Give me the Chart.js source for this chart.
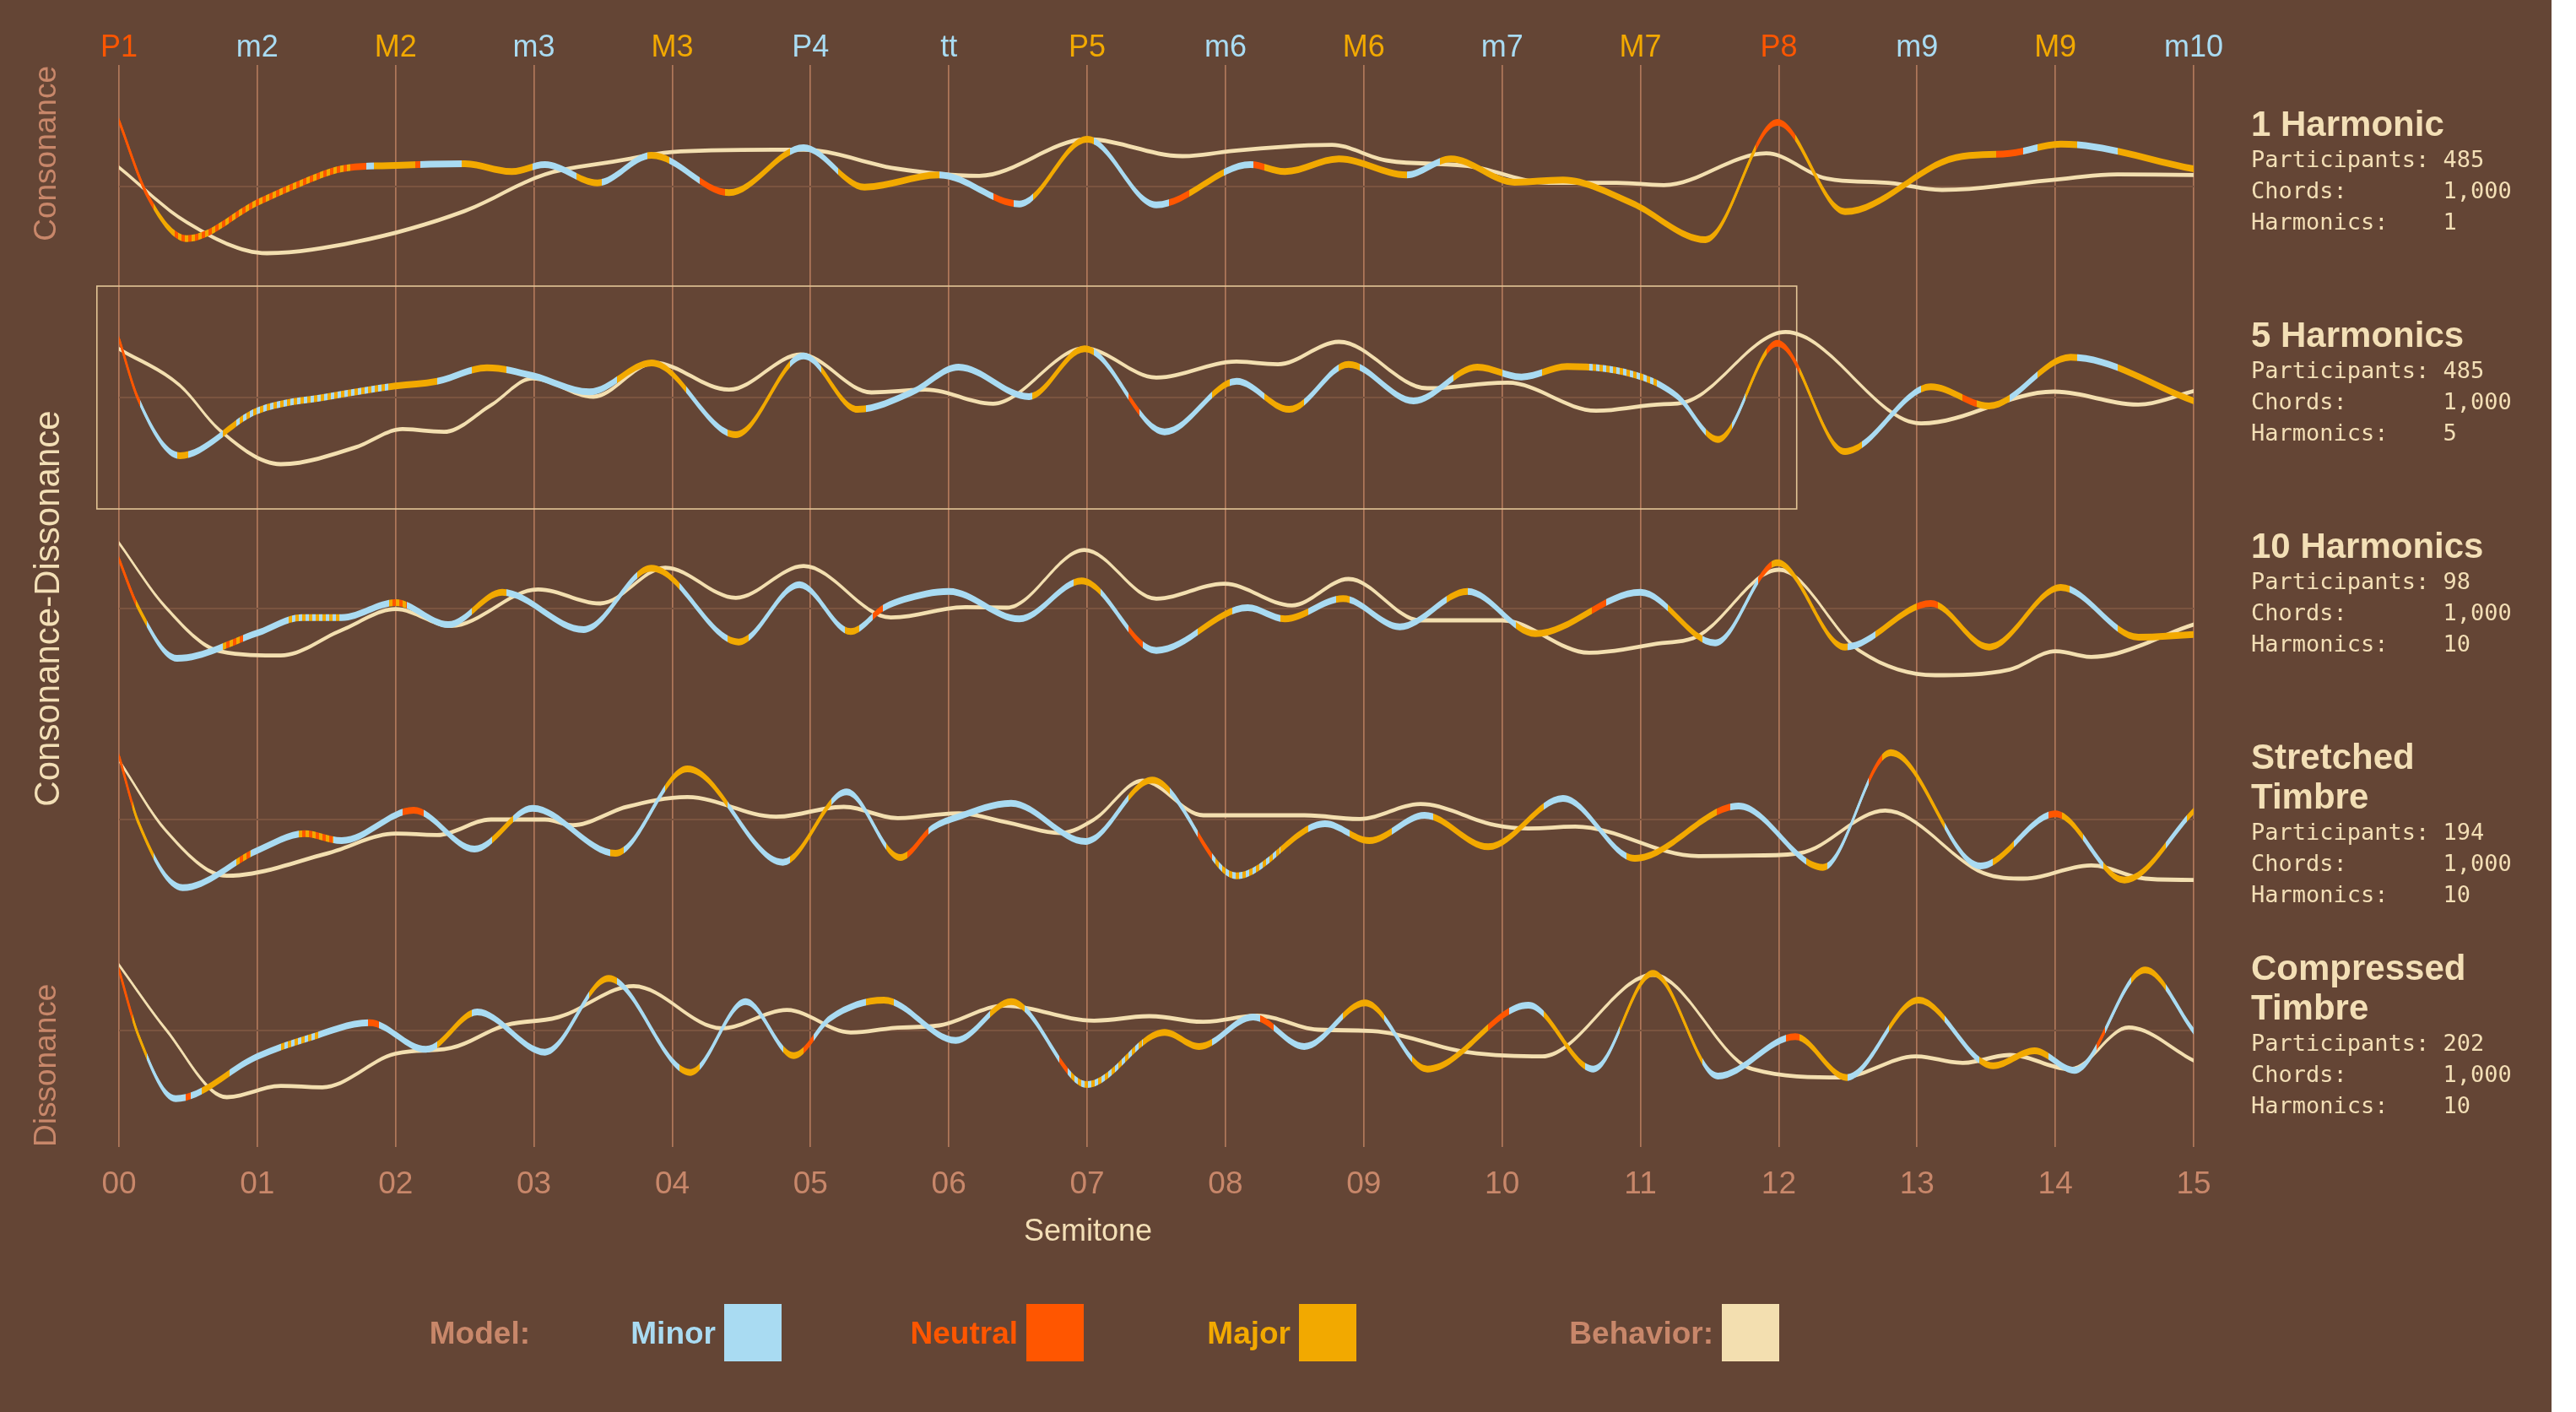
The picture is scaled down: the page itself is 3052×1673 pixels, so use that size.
<!DOCTYPE html>
<html>
<head>
<meta charset="utf-8">
<title>Consonance-Dissonance by Semitone</title>
<script src="https://cdn.jsdelivr.net/npm/chart.js@4.4.1/dist/chart.umd.min.js"></script>
<style>
  html, body { margin: 0; padding: 0; background: #ffffff; }
  #wrap { position: absolute; left: 0; top: 0; width: 3023px; height: 1673px; }
</style>
</head>
<body>
<div id="wrap"><canvas id="chart"></canvas></div>
<script>
// ---------- axis labels ----------
const semitoneLabels = ['00','01','02','03','04','05','06','07','08','09','10','11','12','13','14','15'];
const intervalNames  = ['P1','m2','M2','m3','M3','P4','tt','P5','m6','M6','m7','M7','P8','m9','M9','m10'];
const intervalModes  = ['n','m','M','m','M','m','m','M','m','M','m','M','n','m','M','m'];
const xAxisTitle = 'Semitone';

// ---------- panel captions ----------
const panelTitles   = [['1 Harmonic'], ['5 Harmonics'], ['10 Harmonics'], ['Stretched', 'Timbre'], ['Compressed', 'Timbre']];
const participants  = [485, 485, 98, 194, 202];
const chords        = [1000, 1000, 1000, 1000, 1000];
const harmonics     = [1, 5, 10, 10, 10];

// ---------- 1 Harmonic ----------
const h1ModelX = [0, 0.21, 0.49, 1.0, 1.32, 1.61, 2.0, 2.5, 2.84, 3.08, 3.46, 3.85, 4.41, 4.95, 5.39, 5.93, 6.51, 7.0, 7.5, 8.18, 8.43, 8.82, 9.31, 9.63, 10.09, 10.44, 10.93, 11.47, 11.99, 12.48, 13.28, 13.67, 14.04, 15];
const h1ModelY = [2.33, -0.36, -1.85, -0.57, 0.13, 0.63, 0.75, 0.81, 0.53, 0.78, 0.13, 1.11, -0.22, 1.38, -0.02, 0.41, -0.62, 1.68, -0.65, 0.78, 0.53, 0.98, 0.41, 0.98, 0.15, 0.23, -0.57, -1.89, 2.28, -0.89, 1.03, 1.18, 1.51, 0.63];
const h1BehavX = [0, 0.49, 1.07, 1.71, 2.5, 3.08, 3.57, 4.06, 4.95, 5.63, 6.22, 7.0, 7.69, 8.08, 8.77, 9.16, 9.75, 10.34, 10.83, 11.17, 11.91, 12.35, 12.79, 13.18, 13.97, 14.45, 15];
const h1BehavY = [0.68, -1.27, -2.37, -1.97, -0.87, 0.43, 0.88, 1.25, 1.31, 0.63, 0.38, 1.68, 1.08, 1.28, 1.48, 0.93, 0.73, 0.13, 0.13, 0.05, 1.18, 0.28, 0.13, -0.12, 0.23, 0.43, 0.41];
const h1Modes = [[0,'n'],[0.25,'M'],[0.38,'nM'],[1.67,'n'],[1.79,'m'],[1.84,'M'],[2.14,'n'],[2.18,'m'],[2.48,'M'],[2.99,'m'],[3.31,'M'],[3.49,'m'],[3.82,'M'],[3.98,'m'],[4.2,'n'],[4.38,'M'],[4.85,'m'],[5.2,'M'],[5.93,'m'],[6.32,'n'],[6.47,'m'],[6.61,'M'],[7.05,'m'],[7.59,'n'],[7.74,'M'],[7.99,'m'],[8.2,'n'],[8.28,'M'],[9.31,'m'],[9.55,'M'],[11.83,'n'],[12.12,'M'],[13.57,'n'],[13.77,'m'],[13.87,'M'],[14.16,'m'],[14.45,'M']];

// ---------- 5 Harmonics ----------
const h5ModelX = [0, 0.14, 0.44, 1.0, 1.51, 2.0, 2.3, 2.66, 2.99, 3.4, 3.85, 4.46, 4.95, 5.34, 5.73, 6.07, 6.58, 6.98, 7.56, 8.08, 8.46, 8.89, 9.36, 9.82, 10.14, 10.47, 11.02, 11.27, 11.56, 11.99, 12.48, 13.1, 13.52, 14.11, 15];
const h5ModelY = [2.08, -0.07, -2.07, -0.47, 0.03, 0.41, 0.58, 1.06, 0.78, 0.2, 1.23, -1.32, 1.48, -0.42, 0.18, 1.08, 0.03, 1.73, -1.22, 0.58, -0.42, 1.18, -0.12, 1.08, 0.73, 1.1, 0.71, 0.03, -1.49, 1.93, -1.92, 0.38, -0.3, 1.43, -0.12];
const h5BehavX = [0, 0.44, 0.73, 1.17, 1.71, 2.05, 2.35, 2.69, 2.99, 3.43, 3.87, 4.41, 4.93, 5.44, 5.83, 6.32, 6.98, 7.5, 8.08, 8.38, 8.82, 9.46, 10.04, 10.68, 11.12, 11.32, 12.05, 13.03, 13.99, 14.6, 15];
const h5BehavY = [1.73, 0.43, -1.17, -2.37, -1.77, -1.12, -1.22, -0.27, 0.68, 0.03, 1.23, 0.28, 1.53, 0.18, 0.28, -0.22, 1.75, 0.71, 1.28, 1.18, 1.98, 0.33, 0.53, -0.47, -0.25, -0.17, 2.33, -0.92, 0.21, -0.25, 0.23];
const h5Modes = [[0,'n'],[0.15,'m'],[0.42,'M'],[0.5,'m'],[0.75,'M'],[0.85,'mM'],[1.95,'M'],[2.3,'m'],[2.55,'M'],[2.8,'m'],[3.6,'M'],[4.1,'m'],[4.4,'M'],[4.85,'m'],[5.08,'M'],[5.4,'m'],[6.6,'M'],[7.05,'m'],[7.3,'n'],[7.38,'m'],[7.9,'M'],[8.03,'m'],[8.28,'M'],[8.57,'m'],[8.82,'M'],[8.97,'m'],[9.65,'M'],[10.0,'m'],[10.29,'M'],[10.63,'mM'],[11.12,'m'],[11.47,'M'],[11.66,'m'],[11.76,'M'],[11.91,'n'],[12.15,'M'],[12.6,'m'],[13.03,'M'],[13.33,'n'],[13.43,'M'],[13.67,'m'],[13.87,'M'],[14.16,'m'],[14.45,'M']];

// ---------- 10 Harmonics ----------
const h10ModelX = [0, 0.14, 0.42, 1.0, 1.32, 1.61, 2.0, 2.38, 2.77, 3.36, 3.85, 4.48, 4.92, 5.29, 5.53, 5.68, 6.0, 6.51, 6.96, 7.5, 8.16, 8.43, 8.85, 9.26, 9.75, 10.24, 11.0, 11.54, 11.99, 12.48, 13.1, 13.52, 14.04, 14.6, 15];
const h10ModelY = [1.75, 0.03, -1.77, -0.87, -0.32, -0.32, 0.21, -0.57, 0.58, -0.75, 1.43, -1.19, 0.85, -0.82, 0.03, 0.33, 0.61, -0.37, 0.98, -1.49, 0.03, -0.37, 0.35, -0.65, 0.61, -0.89, 0.58, -1.22, 1.63, -1.37, 0.18, -1.37, 0.75, -1.02, -0.92];
const h10BehavX = [0, 0.34, 0.73, 1.17, 1.61, 2.0, 2.4, 3.03, 3.48, 3.95, 4.46, 4.95, 5.58, 6.12, 6.42, 6.98, 7.5, 7.99, 8.48, 8.89, 9.41, 10.0, 10.63, 11.12, 11.42, 12.0, 12.59, 13.13, 13.67, 14.0, 14.26, 15];
const h10BehavY = [2.33, 0.03, -1.52, -1.67, -0.77, -0.02, -0.62, 0.68, 0.18, 1.45, 0.38, 1.51, -0.32, 0.05, 0.03, 2.08, 0.35, 0.88, 0.11, 1.05, -0.42, -0.42, -1.57, -1.25, -0.97, 1.38, -1.52, -2.37, -2.17, -1.52, -1.72, -0.57];
const h10Modes = [[0,'n'],[0.12,'M'],[0.2,'m'],[0.75,'nM'],[0.9,'m'],[1.2,'mM'],[1.6,'m'],[1.95,'nM'],[2.08,'m'],[2.55,'M'],[2.8,'m'],[3.75,'M'],[4.05,'m'],[4.4,'M'],[4.55,'m'],[5.25,'M'],[5.35,'m'],[5.45,'n'],[5.52,'m'],[6.9,'M'],[7.1,'m'],[7.3,'n'],[7.4,'m'],[7.8,'M'],[8.05,'m'],[8.4,'M'],[8.6,'m'],[8.8,'M'],[8.9,'m'],[9.6,'M'],[9.75,'m'],[10.1,'M'],[10.65,'n'],[10.75,'m'],[11.2,'M'],[11.45,'m'],[11.85,'n'],[11.95,'M'],[12.5,'m'],[12.7,'M'],[13.0,'n'],[13.15,'M'],[14.1,'m'],[14.45,'M']];

// ---------- Stretched Timbre ----------
const strModelX = [0, 0.14, 0.46, 1.0, 1.34, 1.61, 2.13, 2.57, 2.99, 3.59, 4.11, 4.8, 5.26, 5.65, 5.88, 6.07, 6.45, 6.99, 7.47, 8.08, 8.72, 9.04, 9.44, 9.9, 10.44, 10.96, 11.71, 12.32, 12.81, 13.46, 14.0, 14.5, 15];
const strModelY = [2.25, -0.1, -2.42, -1.1, -0.5, -0.75, 0.33, -1.05, 0.4, -1.2, 1.8, -1.52, 0.98, -1.35, -0.3, 0.1, 0.58, -0.78, 1.4, -2.0, -0.15, -0.75, 0.15, -0.97, 0.75, -1.38, 0.48, -1.7, 2.38, -1.65, 0.2, -2.15, 0.3];
const strBehavX = [0, 0.34, 0.78, 1.51, 2.0, 2.3, 2.69, 3.08, 3.28, 3.67, 4.11, 4.75, 5.24, 5.63, 6.07, 6.42, 6.81, 7.05, 7.4, 7.84, 8.57, 8.97, 9.41, 9.95, 10.19, 10.53, 11.42, 11.81, 12.15, 12.77, 13.48, 13.77, 14.26, 14.65, 15];
const strBehavY = [2.1, -0.4, -2.0, -1.2, -0.5, -0.55, 0.0, 0.0, -0.2, 0.45, 0.8, 0.1, 0.45, 0.05, 0.22, -0.1, -0.48, 0.0, 1.38, 0.15, 0.15, 0.02, 0.55, -0.2, -0.32, -0.25, -1.3, -1.28, -1.2, 0.32, -1.9, -2.1, -1.63, -2.1, -2.15];
const strModes = [[0,'n'],[0.1,'M'],[0.25,'m'],[0.85,'nM'],[0.95,'m'],[1.3,'nM'],[1.55,'m'],[2.05,'n'],[2.2,'m'],[2.7,'M'],[2.85,'m'],[3.55,'M'],[3.65,'m'],[3.95,'M'],[4.4,'m'],[4.85,'M'],[5.15,'m'],[5.55,'M'],[5.7,'n'],[5.85,'m'],[7.3,'M'],[7.6,'m'],[7.8,'n'],[7.9,'mM'],[8.4,'M'],[8.6,'m'],[8.9,'M'],[9.2,'m'],[9.5,'M'],[10.3,'m'],[10.9,'M'],[11.55,'n'],[11.65,'m'],[12.2,'M'],[12.35,'m'],[12.65,'n'],[12.75,'M'],[13.2,'m'],[13.55,'M'],[13.7,'m'],[13.95,'n'],[14.05,'M'],[14.2,'m'],[14.35,'M'],[14.8,'m'],[14.95,'M']];

// ---------- Compressed Timbre ----------
const cmpModelX = [0, 0.14, 0.41, 1.0, 1.37, 1.81, 2.22, 2.59, 3.08, 3.54, 4.13, 4.53, 4.88, 5.14, 5.53, 6.05, 6.45, 7.0, 7.56, 7.81, 8.2, 8.57, 9.01, 9.46, 10.19, 10.66, 11.09, 11.56, 12.12, 12.49, 13.01, 13.55, 13.85, 14.14, 14.65, 15];
const cmpModelY = [2.15, -0.17, -2.42, -0.92, -0.27, 0.28, -0.67, 0.66, -0.77, 1.85, -1.49, 1.03, -0.89, 0.43, 1.08, -0.35, 1.03, -1.92, -0.07, -0.57, 0.48, -0.57, 0.98, -1.37, 0.9, -1.37, 2.03, -1.62, -0.22, -1.67, 1.08, -1.25, -0.72, -1.42, 2.15, -0.02];
const cmpBehavX = [0, 0.34, 0.78, 1.17, 1.47, 2.0, 2.4, 2.79, 3.18, 3.72, 4.36, 4.83, 5.29, 5.63, 5.93, 6.4, 7.05, 7.45, 7.84, 8.23, 8.67, 9.06, 9.75, 10.29, 11.09, 11.81, 12.45, 12.99, 13.33, 13.67, 14.11, 14.53, 15];
const cmpBehavY = [2.33, 0.03, -2.37, -1.97, -2.02, -0.82, -0.62, 0.18, 0.48, 1.58, 0.08, 0.73, -0.07, 0.1, 0.18, 0.88, 0.35, 0.51, 0.31, 0.53, 0.03, -0.02, -0.77, -0.92, 1.98, -1.37, -1.67, -0.92, -1.15, -0.87, -1.37, 0.11, -1.07];
const cmpModes = [[0,'n'],[0.1,'M'],[0.2,'m'],[0.48,'n'],[0.52,'m'],[0.6,'M'],[0.8,'m'],[1.15,'mM'],[1.45,'m'],[1.8,'n'],[1.88,'m'],[2.3,'M'],[2.55,'m'],[3.4,'M'],[3.6,'m'],[4.05,'M'],[4.2,'m'],[4.8,'M'],[4.95,'n'],[5.02,'m'],[5.4,'M'],[5.6,'m'],[6.3,'M'],[6.55,'m'],[6.8,'n'],[6.86,'mM'],[7.4,'M'],[7.9,'m'],[8.25,'n'],[8.35,'m'],[8.85,'M'],[9.15,'m'],[9.35,'M'],[9.9,'n'],[10.05,'m'],[10.3,'M'],[10.6,'m'],[10.85,'M'],[11.45,'m'],[12.05,'n'],[12.15,'M'],[12.5,'m'],[12.8,'M'],[13.2,'m'],[13.45,'M'],[13.95,'m'],[14.3,'n'],[14.36,'m'],[14.55,'M'],[14.8,'m']];

// highlighted panel frame (semitone range, score range on its panel)
const frameX = [-0.16, 12.13];
const frameY = [-3.96, 3.96];

// ---------- styling ----------
const C = {
  bg: '#644535',
  minor: '#a9dbf2',
  neutral: '#ff5600',
  major: '#f2a900',
  behavior: '#f3dfb0',
  label: '#c8876a',
  text: '#f3dfb6',
  grid: 'rgba(205,140,105,0.72)',
  zero: '#7a5440',
  frame: '#e3c596'
};
const MODE_COLOR = { m: C.minor, n: C.neutral, M: C.major };
const MIXED = { nM: ['M', 'n'], mM: ['m', 'M'] };
const STRIPE = 4;
const SANS = '"Liberation Sans", Arial, sans-serif';
const MONO = '"DejaVu Sans Mono", monospace';

const panels = [
  { mx: h1ModelX,  my: h1ModelY,  bx: h1BehavX,  by: h1BehavY,  modes: h1Modes },
  { mx: h5ModelX,  my: h5ModelY,  bx: h5BehavX,  by: h5BehavY,  modes: h5Modes },
  { mx: h10ModelX, my: h10ModelY, bx: h10BehavX, by: h10BehavY, modes: h10Modes },
  { mx: strModelX, my: strModelY, bx: strBehavX, by: strBehavY, modes: strModes },
  { mx: cmpModelX, my: cmpModelY, bx: cmpBehavX, by: cmpBehavY, modes: cmpModes }
];

// horizontal colour ramp following the model's mode along the semitone axis
const rampCache = {};
function modeRamp(chart, idx) {
  const area = chart.chartArea;
  const xs = chart.scales.x;
  if (!area || !xs) return C.major;
  const key = idx + ':' + area.left + ':' + area.right;
  if (rampCache[key]) return rampCache[key];
  const x0 = area.left, w = area.right - area.left;
  const off = px => Math.min(1, Math.max(0, (px - x0) / w));
  const g = chart.ctx.createLinearGradient(area.left, 0, area.right, 0);
  const runs = panels[idx].modes;
  runs.forEach(([start, mode], i) => {
    const end = i + 1 < runs.length ? runs[i + 1][0] : 15;
    const p0 = xs.getPixelForValue(start), p1 = xs.getPixelForValue(end);
    const pair = MIXED[mode];
    if (!pair) {
      g.addColorStop(off(p0), MODE_COLOR[mode]);
      g.addColorStop(off(p1), MODE_COLOR[mode]);
    } else {
      let p = p0, k = 0;
      while (p < p1) {
        const q = Math.min(p + STRIPE, p1);
        const col = MODE_COLOR[pair[k % 2]];
        g.addColorStop(off(p), col);
        g.addColorStop(off(q), col);
        p = q; k++;
      }
    }
  });
  rampCache[key] = g;
  return g;
}

const toPoints = (xs, ys, shift) => xs.map((x, k) => ({ x: x, y: ys[k] + shift }));

// each curve = centre stroke + a ribbon of constant vertical thickness
const MODEL_HALF = 0.12, BEHAV_HALF = 0.072;
const datasets = [];
panels.forEach((p, i) => {
  const yAxisID = 'y' + i;
  const common = { yAxisID, xAxisID: 'x', pointRadius: 0, pointHitRadius: 0, cubicInterpolationMode: 'monotone' };
  // behaviour
  datasets.push(Object.assign({}, common, { label: 'Behavior', order: 1, data: toPoints(p.bx, p.by, 0), borderColor: C.behavior, borderWidth: 2, fill: false }));
  datasets.push(Object.assign({}, common, { label: 'Behavior band', order: 1, data: toPoints(p.bx, p.by, BEHAV_HALF), borderWidth: 0, borderColor: 'rgba(0,0,0,0)', backgroundColor: C.behavior, fill: '+1' }));
  datasets.push(Object.assign({}, common, { label: 'Behavior band low', order: 1, data: toPoints(p.bx, p.by, -BEHAV_HALF), borderWidth: 0, borderColor: 'rgba(0,0,0,0)', fill: false }));
  // model
  datasets.push(Object.assign({}, common, { label: 'Model', order: 0, data: toPoints(p.mx, p.my, 0), borderColor: ctx => modeRamp(ctx.chart, i), borderWidth: 2.8, fill: false }));
  datasets.push(Object.assign({}, common, { label: 'Model band', order: 0, data: toPoints(p.mx, p.my, MODEL_HALF), borderWidth: 0, borderColor: 'rgba(0,0,0,0)', backgroundColor: ctx => modeRamp(ctx.chart, i), fill: '+1' }));
  datasets.push(Object.assign({}, common, { label: 'Model band low', order: 0, data: toPoints(p.mx, p.my, -MODEL_HALF), borderWidth: 0, borderColor: 'rgba(0,0,0,0)', fill: false }));
});

const allTicks = s => { s.ticks = semitoneLabels.map((_, i) => ({ value: i })); };

const scales = {
  x: {
    type: 'linear', position: 'bottom', min: 0, max: 15,
    afterBuildTicks: allTicks,
    afterFit: s => { s.height = 134; },
    ticks: { callback: v => semitoneLabels[v], color: C.label, font: { family: SANS, size: 37 }, padding: 23, maxRotation: 0, autoSkip: false },
    grid: { color: C.grid, lineWidth: 1.7, tickLength: 13, tickColor: C.grid, drawOnChartArea: true },
    border: { display: false }
  },
  xTop: {
    type: 'linear', position: 'top', min: 0, max: 15,
    afterBuildTicks: allTicks,
    afterFit: s => { s.height = 96; },
    ticks: { callback: v => intervalNames[v], color: ctx => MODE_COLOR[intervalModes[ctx.index]], font: { family: SANS, size: 36 }, padding: -2, maxRotation: 0, autoSkip: false },
    grid: { color: C.grid, lineWidth: 1.7, tickLength: 19, tickColor: C.grid, drawOnChartArea: false },
    border: { display: false }
  }
};
panels.forEach((p, i) => {
  scales['y' + i] = {
    type: 'linear', position: 'left', stack: 'panels', stackWeight: 1, weight: panels.length - i,
    min: -3.75, max: 3.75,
    afterBuildTicks: s => { s.ticks = [{ value: 0 }]; },
    afterFit: s => { s.width = 141; },
    ticks: { display: false },
    grid: { color: C.zero, lineWidth: 2, drawTicks: false },
    border: { display: false }
  };
});

function rotatedText(ctx, text, x, y, align, font, color) {
  ctx.save();
  ctx.translate(x, y);
  ctx.rotate(-Math.PI / 2);
  ctx.font = font;
  ctx.fillStyle = color;
  ctx.textAlign = align;
  ctx.textBaseline = 'middle';
  ctx.fillText(text, 0, 0);
  ctx.restore();
}

const decor = {
  id: 'decor',
  beforeDraw(chart) {
    const ctx = chart.ctx;
    ctx.save();
    ctx.fillStyle = C.bg;
    ctx.fillRect(0, 0, chart.width, chart.height);
    ctx.restore();
  },
  beforeDatasetsDraw(chart) {
    const ctx = chart.ctx, xs = chart.scales.x, ys = chart.scales.y1;
    const l = xs.getPixelForValue(frameX[0]), r = xs.getPixelForValue(frameX[1]);
    const t = ys.getPixelForValue(frameY[1]), b = ys.getPixelForValue(frameY[0]);
    ctx.save();
    ctx.strokeStyle = C.frame;
    ctx.lineWidth = 1.6;
    ctx.strokeRect(l, t, r - l, b - t);
    ctx.restore();
  },
  afterDraw(chart) {
    const ctx = chart.ctx, area = chart.chartArea;
    // side axis captions
    rotatedText(ctx, 'Consonance', 56, area.top - 18, 'right', '37px ' + SANS, C.label);
    rotatedText(ctx, 'Consonance-Dissonance', 58, (area.top + area.bottom) / 2, 'center', '42px ' + SANS, C.text);
    rotatedText(ctx, 'Dissonance', 56, area.bottom + 13, 'left', '37px ' + SANS, C.label);

    // x axis title
    ctx.save();
    ctx.font = '36px ' + SANS;
    ctx.fillStyle = C.text;
    ctx.textAlign = 'center';
    ctx.textBaseline = 'middle';
    ctx.fillText(xAxisTitle, 1289, area.bottom + 114);
    ctx.restore();

    // panel captions
    const capX = 2667;
    ctx.save();
    ctx.fillStyle = C.text;
    ctx.textAlign = 'left';
    ctx.textBaseline = 'middle';
    panels.forEach((p, i) => {
      const cy = chart.scales['y' + i].getPixelForValue(0);
      let y = cy - 72;
      ctx.font = 'bold 42px ' + SANS;
      panelTitles[i].forEach((line, k) => {
        if (k > 0) y += 47;
        ctx.fillText(line, capX, y);
      });
      ctx.font = '27px ' + MONO;
      const rows = [
        'Participants: ' + participants[i].toLocaleString('en-US'),
        'Chords:'.padEnd(14) + chords[i].toLocaleString('en-US'),
        'Harmonics:'.padEnd(14) + harmonics[i].toLocaleString('en-US')
      ];
      y += 42;
      rows.forEach((row, k) => ctx.fillText(row, capX, y + k * 37));
    });
    ctx.restore();

    // legend
    const ly = 1582, box = 68;
    const items = [
      { text: 'Model:', color: C.label, right: 628 },
      { text: 'Minor', color: C.minor, boxX: 858, fill: C.minor },
      { text: 'Neutral', color: C.neutral, boxX: 1216, fill: C.neutral },
      { text: 'Major', color: C.major, boxX: 1539, fill: C.major },
      { text: 'Behavior:', color: C.label, boxX: 2040, fill: C.behavior }
    ];
    ctx.save();
    ctx.font = 'bold 37px ' + SANS;
    ctx.textAlign = 'right';
    ctx.textBaseline = 'middle';
    items.forEach(it => {
      const right = it.boxX !== undefined ? it.boxX - 10 : it.right;
      ctx.fillStyle = it.color;
      ctx.fillText(it.text, right, ly);
      if (it.boxX !== undefined) {
        ctx.fillStyle = it.fill;
        ctx.fillRect(it.boxX, ly - 3 - box / 2, box, box);
      }
    });
    ctx.restore();
  }
};

new Chart(document.getElementById('chart'), {
  type: 'line',
  data: { datasets },
  options: {
    responsive: true,
    maintainAspectRatio: false,
    devicePixelRatio: 1,
    animation: false,
    events: [],
    layout: { padding: { top: 0, left: 0, right: 424, bottom: 193 } },
    plugins: { legend: { display: false }, tooltip: { enabled: false } },
    scales
  },
  plugins: [decor]
});
</script>
</body>
</html>
